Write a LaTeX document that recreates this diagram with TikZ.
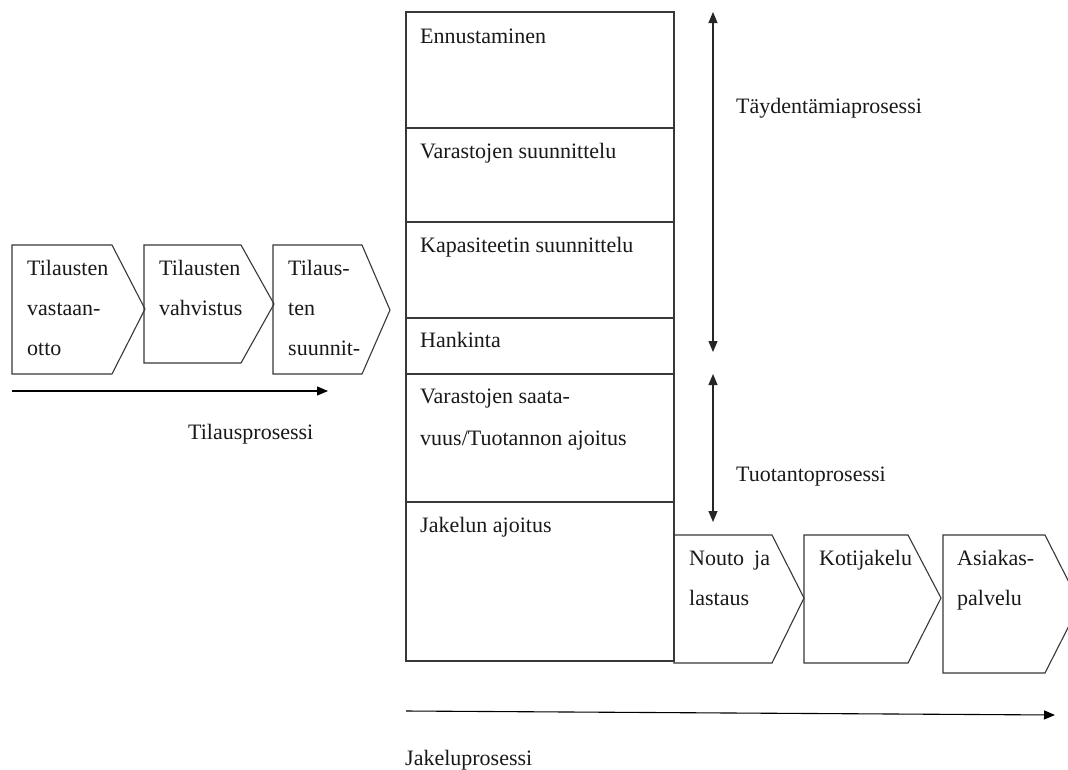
\documentclass[tikz,border=0pt]{standalone}
\usepackage{fontspec}
\setmainfont{Liberation Serif}
\usetikzlibrary{arrows.meta}
\begin{document}
\begin{tikzpicture}[x=1pt,y=-1pt,
  frame/.style={draw=black!78, line width=1.1pt, line join=miter},
  lbl/.style={anchor=base west, inner sep=0pt, text=black!90,
    font=\fontsize{22}{26}\selectfont},
  tip/.style={Triangle[length=11pt,width=9pt]},
  flow/.style={draw=black, line width=1.1pt, -{Triangle[length=11pt,width=9pt]}},
  span/.style={draw=black!85, line width=1.1pt,
    {Triangle[length=11pt,width=9pt]}-{Triangle[length=11pt,width=9pt]}}]
\clip (0,0) rectangle (1068,769);
\fill[white] (0,0) rectangle (1068,769);

% ---- order process chevrons ----
\draw[frame] (12,245) -- (112,245) -- (145,309) -- (112,374) -- (12,374) -- cycle;
\draw[frame] (144,245) -- (241,245) -- (274,304) -- (241,363) -- (144,363) -- cycle;
\draw[frame] (273,245) -- (362,245) -- (390,310) -- (362,374) -- (273,374) -- cycle;

\node[lbl] (o1a) at (27,275) {Tilausten};
\node[lbl] (o1b) at (27,315) {vastaan-};
\node[lbl] (o1c) at (27,355) {otto};
\node[lbl] (o2a) at (159,275) {Tilausten};
\node[lbl] (o2b) at (159,315) {vahvistus};
\node[lbl] (o3a) at (288,275) {Tilaus-};
\node[lbl] (o3b) at (288,315) {ten};
\node[lbl] (o3c) at (288,355) {suunnit-};

\coordinate (oS) at (12,391);
\coordinate (oE) at (328,391);
\draw[flow] (oS) -- (oE);
\node[lbl] (oproc) at (188,439) {Tilausprosessi};

% ---- planning column ----
\draw[frame] (406,12) rectangle (674,661);
\foreach \yy in {128,222,318,374,502}
  \draw[frame] (406,\yy) -- (674,\yy);

\node[lbl] (p1) at (420,43) {Ennustaminen};
\node[lbl] (p2) at (420,158) {Varastojen suunnittelu};
\node[lbl] (p3) at (420,252) {Kapasiteetin suunnittelu};
\node[lbl] (p4) at (420,347) {Hankinta};
\node[lbl] (p5a) at (420,403) {Varastojen saata-};
\node[lbl] (p5b) at (420,445) {vuus/Tuotannon ajoitus};
\node[lbl] (p6) at (420,532) {Jakelun ajoitus};

% ---- process spans ----
\coordinate (rTop) at (713,12);
\coordinate (rBot) at (713,352);
\draw[span] (rTop) -- (rBot);
\node[lbl] (rproc) at (736,113) {Täydentämiaprosessi};

\coordinate (tTop) at (713,374);
\coordinate (tBot) at (713,522);
\draw[span] (tTop) -- (tBot);
\node[lbl] (tproc) at (736,481) {Tuotantoprosessi};

% ---- distribution chevrons ----
\draw[frame] (674,535) -- (772,535) -- (804,598) -- (772,663) -- (674,663) -- cycle;
\draw[frame] (804,535) -- (908,535) -- (941,598) -- (908,663) -- (804,663) -- cycle;
\draw[frame] (943,535) -- (1045,535) -- (1080,604) -- (1045,673) -- (943,673) -- cycle;

\node[lbl] (d1a) at (689,565) {Nouto\hspace{10pt}ja};
\node[lbl] (d1b) at (689,605) {lastaus};
\node[lbl] (d2a) at (819,565) {Kotijakelu};
\node[lbl] (d3a) at (957,565) {Asiakas-};
\node[lbl] (d3b) at (957,605) {palvelu};

\coordinate (dS) at (406,711);
\coordinate (dE) at (1055,715);
\draw[flow] (dS) -- (dE);
\node[lbl] (dproc) at (405,765) {Jakeluprosessi};
\end{tikzpicture}
\end{document}
